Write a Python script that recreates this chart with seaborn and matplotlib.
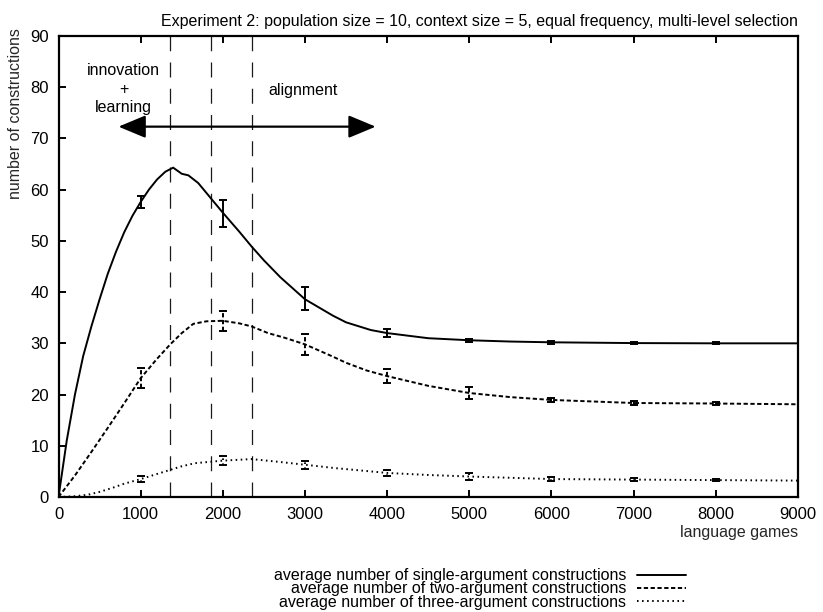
import matplotlib
matplotlib.use("Agg")
import matplotlib.pyplot as plt
import seaborn as sns
import numpy as np
import pandas as pd

# ---------------- data ----------------
games_single = [0, 100, 200, 300, 400, 500, 600, 700, 800, 900, 1000, 1100, 1200, 1300,
                1395, 1500, 1580, 1700, 1850, 2000, 2200, 2350, 2500, 2700, 3000, 3340,
                3500, 3800, 4000, 4500, 5000, 5500, 6000, 7000, 8000, 9000]
single = [0, 11.0, 20.0, 27.5, 33.3, 38.6, 43.6, 47.9, 51.7, 54.9, 57.6, 60.0, 62.0, 63.5,
          64.3, 63.1, 62.8, 61.3, 58.4, 55.5, 51.8, 48.9, 46.2, 42.9, 38.6, 35.4,
          34.1, 32.6, 32.0, 31.0, 30.6, 30.35, 30.2, 30.05, 30.0, 30.0]

games_two = [0, 200, 400, 600, 800, 1000, 1200, 1360, 1500, 1640, 1800, 2000, 2200, 2350,
             2550, 2750, 3000, 3340, 3500, 3750, 4000, 4500, 5000, 5500, 6000, 7000, 8000, 9000]
two = [0, 4.2, 8.8, 13.5, 18.3, 23.2, 27.0, 29.8, 32.0, 33.8, 34.3, 34.4, 33.9, 33.3,
       32.0, 31.1, 29.8, 27.4, 26.2, 24.7, 23.6, 21.7, 20.3, 19.5, 18.95, 18.35, 18.25, 18.1]

games_three = [0, 200, 360, 500, 650, 800, 1000, 1200, 1360, 1500, 1660, 2000, 2350, 2630,
               3000, 3360, 4000, 4500, 5000, 6000, 7000, 8000, 9000]
three = [0, 0.15, 0.45, 1.0, 1.75, 2.6, 3.5, 4.5, 5.3, 6.0, 6.6, 7.1, 7.4, 6.95,
         6.3, 5.65, 4.7, 4.3, 4.0, 3.5, 3.4, 3.3, 3.2]

err_games = [1000, 2000, 3000, 4000, 5000, 6000, 7000, 8000]
single_mean = [57.6, 55.4, 38.7, 32.0, 30.6, 30.2, 30.05, 30.0]
single_err = [1.2, 2.6, 2.2, 0.8, 0.3, 0.25, 0.2, 0.2]
two_mean = [23.2, 34.4, 29.8, 23.6, 20.3, 18.95, 18.35, 18.25]
two_err = [1.9, 1.9, 2.1, 1.3, 1.15, 0.4, 0.3, 0.3]
three_mean = [3.5, 7.1, 6.3, 4.7, 4.0, 3.5, 3.4, 3.3]
three_err = [0.6, 0.9, 0.8, 0.6, 0.6, 0.4, 0.3, 0.25]

phase_lines = [1360, 1850, 2350]
arrow_span = [730, 3860]
arrow_level = 72.3

labels = ["average number of single-argument constructions",
          "average number of two-argument constructions",
          "average number of three-argument constructions"]
title = "Experiment 2: population size = 10, context size = 5, equal frequency, multi-level selection"
xticks = [0, 1000, 2000, 3000, 4000, 5000, 6000, 7000, 8000, 9000]
yticks = [0, 10, 20, 30, 40, 50, 60, 70, 80, 90]

# ---------------- style ----------------
sns.set_theme(style="ticks")
plt.rcParams["font.family"] = ["Liberation Sans", "DejaVu Sans"]
plt.rcParams["text.color"] = "black"

fig = plt.figure(figsize=(8.23, 6.12), dpi=100)
ax = fig.add_axes([0.0711, 0.1879, 0.8985, 0.7533])

LW = 1.4
styles = [dict(linestyle="-"),
          dict(linestyle=(0, (2.2, 1.3))),
          dict(linestyle=(0, (0.8, 1.8)))]

series = [(games_single, single, single_mean, single_err),
          (games_two, two, two_mean, two_err),
          (games_three, three, three_mean, three_err)]

for (gx, gy, em, ee), st, lab in zip(series, styles, labels):
    df = pd.DataFrame({"games": gx, "value": gy})
    sns.lineplot(data=df, x="games", y="value", ax=ax, color="black",
                 linewidth=LW, sort=False, label=lab, **st)
    eb = ax.errorbar(err_games, em, yerr=ee, fmt="none", ecolor="black",
                     elinewidth=LW, capsize=2.6, capthick=LW)
    eb[2][0].set_linestyle(st["linestyle"])

handles, labs = ax.get_legend_handles_labels()
ax.get_legend().remove()

for g in phase_lines:
    ax.axvline(g, color="#1a1a1a", linewidth=0.9, linestyle=(0, (12, 9)), zorder=1)

ax.annotate("", xy=(arrow_span[0], arrow_level), xytext=(arrow_span[1], arrow_level),
            arrowprops=dict(arrowstyle="<|-|>,head_length=1.2,head_width=0.5",
                            color="black", lw=1.6, mutation_scale=14,
                            shrinkA=0, shrinkB=0))

ax.text(790, 79.6, "innovation\n+\nlearning", ha="center", va="center",
        fontsize=11.5, linespacing=1.3)
ax.text(2980, 79.4, "alignment", ha="center", va="center", fontsize=11.5)

ax.set_xlim(0, 9000)
ax.set_ylim(0, 90)
ax.set_xticks(xticks)
ax.set_yticks(yticks)
ax.xaxis.set_ticks_position("both")
ax.tick_params(axis="both", direction="in", length=5, width=1.4,
               labelsize=12, colors="black", pad=7)
ax.tick_params(axis="x", top=True, labeltop=False)
ax.tick_params(axis="y", right=False, labelright=False)
for s in ax.spines.values():
    s.set_linewidth(1.6)
    s.set_color("black")
    s.set_visible(True)

ax.set_ylabel("number of constructions", fontsize=11.5)
ax.yaxis.set_label_coords(-0.058, 0.832)
ax.yaxis.label.set_va("center")
ax.set_xlabel("language games", fontsize=11.5)
ax.xaxis.set_label_coords(1.0, -0.078)
ax.xaxis.label.set_ha("right")
ax.xaxis.label.set_va("center")

ax.set_title(title, loc="right", fontsize=11.5, pad=7)

fig.legend(handles, labs, loc="center left", bbox_to_anchor=(266 / 823, 1 - 589 / 612),
           markerfirst=False, frameon=False, fontsize=11.5, handlelength=3.1,
           handletextpad=0.65, labelspacing=-0.1, borderpad=0)

fig.savefig("out.png", dpi=100)
